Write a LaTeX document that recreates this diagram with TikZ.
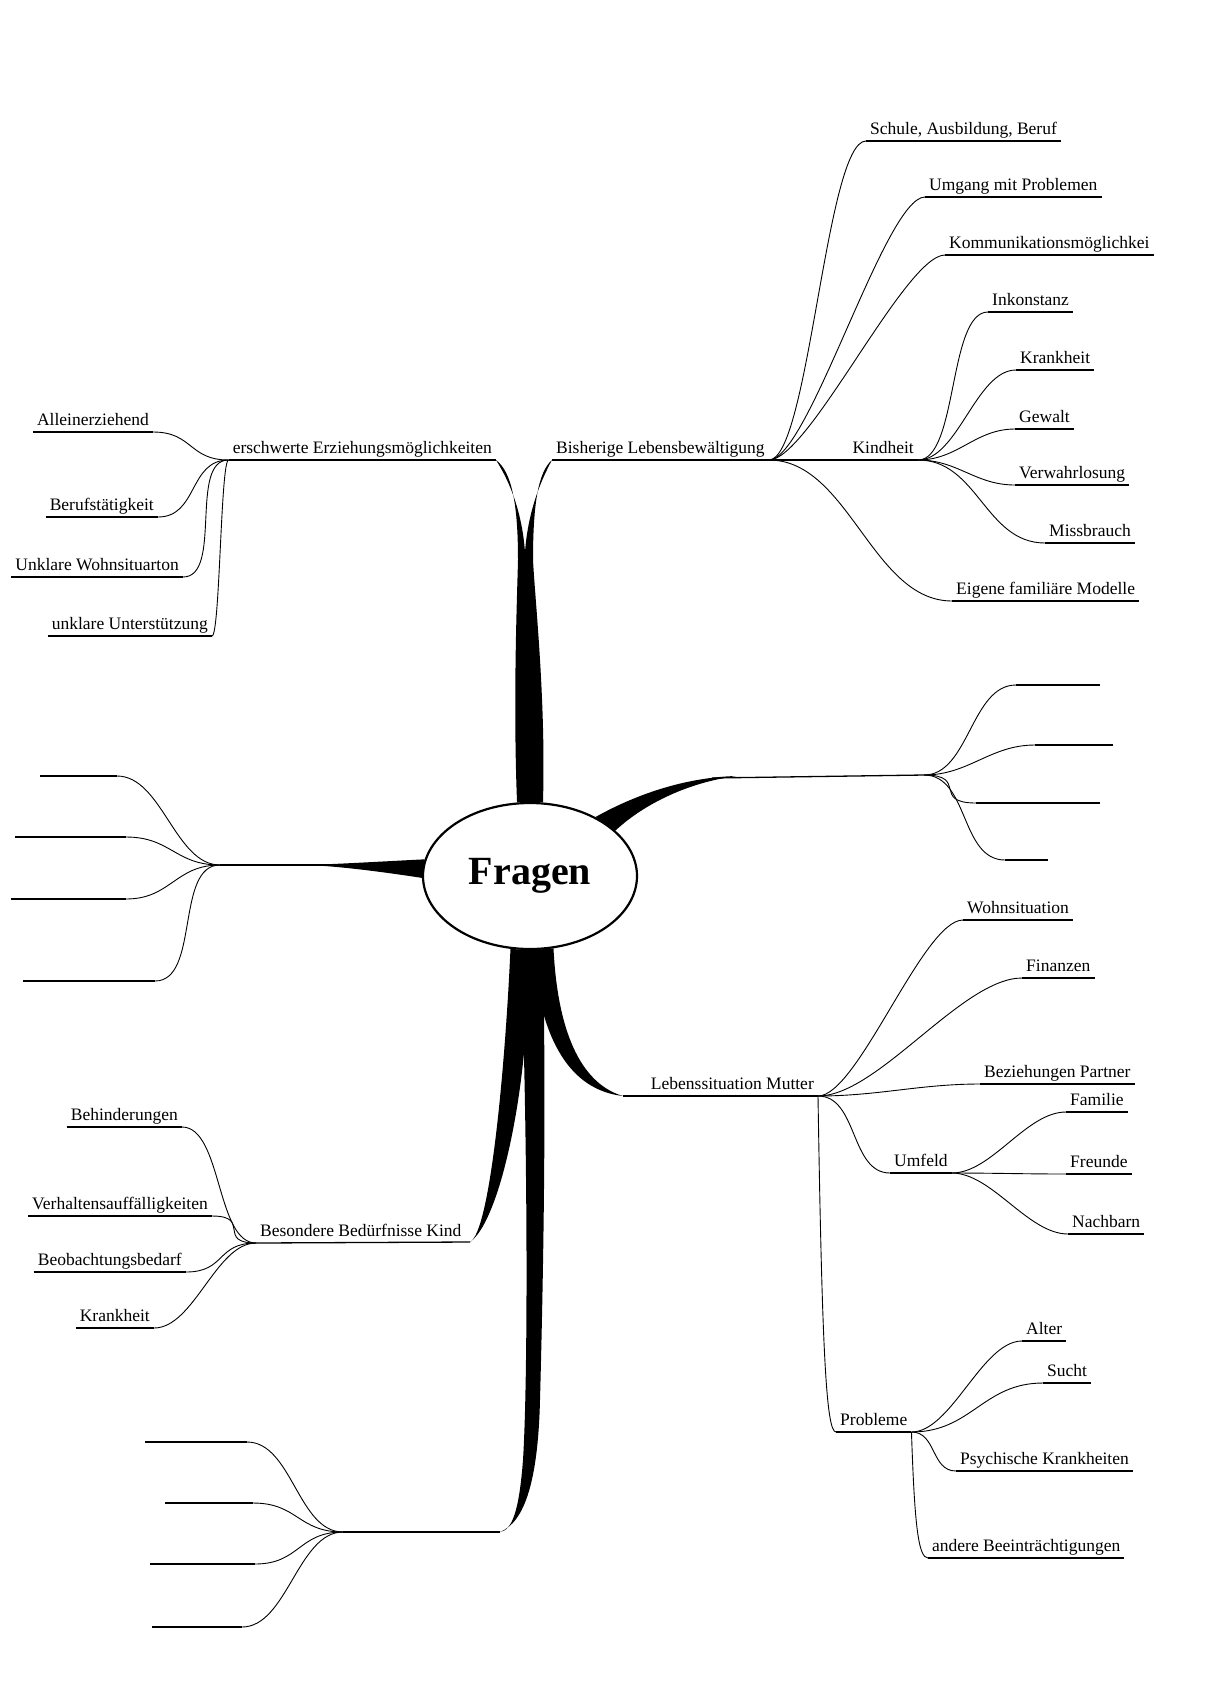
\documentclass[tikz,border=0pt]{standalone}
\usepackage{fontspec}
\setmainfont{Liberation Serif}
\usetikzlibrary{shapes.geometric, backgrounds}

\tikzset{
  leaf/.style={inner xsep=4pt, inner ysep=2pt, text height=12pt, text depth=4pt, font=\fontsize{17.5}{20}\selectfont},
  uline/.style={line width=1.3pt},
  twig/.style={line width=0.9pt, out=0, in=180, distance=40pt},
  twigl/.style={line width=0.9pt, out=180, in=0, distance=40pt},
  centre/.style={ellipse, draw, line width=2.2pt, fill=white, minimum width=214pt, minimum height=146pt, inner sep=0pt, font=\fontsize{40}{40}\selectfont\bfseries},
}

\begin{document}
\begin{tikzpicture}[x=1pt, y=-1pt]
  \useasboundingbox (0,0) rectangle (1219,1706);

  \node (fragen) [centre] at (530,876) {Fragen};

  % obere Aeste
  \node (erschwert) [leaf, anchor=south east] at (496,460) {erschwerte Erziehungsmöglichkeiten};
  \node (bisher)    [leaf, anchor=south west] at (552,460) {Bisherige Lebensbewältigung};
  \node (kindheit)  [leaf, anchor=south east] at (918,460) {Kindheit};

  \node (schule)  [leaf, anchor=south west] at (866,141) {Schule, Ausbildung, Beruf};
  \node (umgang)  [leaf, anchor=south west] at (925,197) {Umgang mit Problemen};
  \node (kommun)  [leaf, anchor=south west] at (945,255) {Kommunikationsmöglichkei};
  \node (eigene)  [leaf, anchor=south west] at (952,601) {Eigene familiäre Modelle};

  \node (inkon)   [leaf, anchor=south west] at (988,312) {Inkonstanz};
  \node (krank)   [leaf, anchor=south west] at (1016,370) {Krankheit};
  \node (gewalt)  [leaf, anchor=south west] at (1015,429) {Gewalt};
  \node (verwahr) [leaf, anchor=south west] at (1015,485) {Verwahrlosung};
  \node (missbr)  [leaf, anchor=south west] at (1045,543) {Missbrauch};

  \node (allein)  [leaf, anchor=south east] at (153,432) {Alleinerziehend};
  \node (berufst) [leaf, anchor=south east] at (158,517) {Berufstätigkeit};
  \node (wohnung) [leaf, anchor=south east] at (183,577) {Unklare Wohnsituarton};
  \node (unterst) [leaf, anchor=south east] at (212,636) {unklare Unterstützung};

  % untere Aeste
  \node (lebens)   [leaf, anchor=south east] at (818,1096) {Lebenssituation Mutter};
  \node (wohnsit)  [leaf, anchor=south west] at (963,920) {Wohnsituation};
  \node (finanz)   [leaf, anchor=south west] at (1022,978) {Finanzen};
  \node (bezieh)   [leaf, anchor=south west] at (980,1084) {Beziehungen Partner};
  \node (umfeld)   [leaf, anchor=south west] at (890,1173) {Umfeld};
  \node (familie)  [leaf, anchor=south west] at (1066,1112) {Familie};
  \node (freunde)  [leaf, anchor=south west] at (1066,1174) {Freunde};
  \node (nachbarn) [leaf, anchor=south west] at (1068,1234) {Nachbarn};
  \node (probl)    [leaf, anchor=south west] at (836,1432) {Probleme};
  \node (alter)    [leaf, anchor=south west] at (1022,1341) {Alter};
  \node (sucht)    [leaf, anchor=south west] at (1043,1383) {Sucht};
  \node (psych)    [leaf, anchor=south west] at (956,1471) {Psychische Krankheiten};
  \node (andere)   [leaf, anchor=south west] at (928,1558) {andere Beeinträchtigungen};

  \node (besond)  [leaf, anchor=south west] at (256,1243) {Besondere Bedürfnisse Kind};
  \node (behind)  [leaf, anchor=south east] at (182,1127) {Behinderungen};
  \node (verhalt) [leaf, anchor=south east] at (212,1216) {Verhaltensauffälligkeiten};
  \node (beob)    [leaf, anchor=south east] at (186,1272) {Beobachtungsbedarf};
  \node (krank2)  [leaf, anchor=south east] at (154,1328) {Krankheit};

  \coordinate (rtip)  at (737,776);
  \coordinate (rjoin) at (712,778);
  \coordinate (rhub)  at (924,775);
  \coordinate (ltip)  at (306,865);
  \coordinate (ljoin) at (332,865);
  \coordinate (lhub)  at (220,865);
  \coordinate (btip)  at (500,1532);
  \coordinate (bhub)  at (343,1532);
  \coordinate (lmtip) at (623,1096);
  \coordinate (bbtip) at (470,1242);

  % Unterstreichungen
  \foreach \n in {erschwert, bisher, schule, umgang, kommun, eigene, inkon, krank, gewalt, verwahr, missbr,
                  allein, berufst, wohnung, unterst, wohnsit, finanz, bezieh, umfeld, familie, freunde, nachbarn,
                  probl, alter, sucht, psych, andere, behind, verhalt, beob, krank2}
    \draw [uline] (\n.south west) -- (\n.south east);
  \draw [uline] (bisher.south east) -- (kindheit.south east);
  \draw [uline] (lmtip) -- (lebens.south east);
  \draw [uline] (besond.south west) -- (bbtip);
  \draw [uline] (rjoin) -- (rhub);
  \draw [uline] (ljoin) -- (lhub);
  \draw [uline] (btip) -- (bhub);

  % Zweige
  \draw [twigl] (erschwert.south west) to (allein.south east);
  \draw [twigl] (erschwert.south west) to (berufst.south east);
  \draw [twigl] (erschwert.south west) to (wohnung.south east);
  \draw [twigl, distance=8pt] (erschwert.south west) to (unterst.south east);

  \draw [twig] (bisher.south east) to (schule.south west);
  \draw [twig] (bisher.south east) to (umgang.south west);
  \draw [twig] (bisher.south east) to (kommun.south west);
  \draw [twig, distance=80pt] (bisher.south east) to (eigene.south west);
  \draw [twig] (kindheit.south east) to (inkon.south west);
  \draw [twig] (kindheit.south east) to (krank.south west);
  \draw [twig] (kindheit.south east) to (gewalt.south west);
  \draw [twig] (kindheit.south east) to (verwahr.south west);
  \draw [twig, distance=60pt] (kindheit.south east) to (missbr.south west);

  \draw [twig] (lebens.south east) to (wohnsit.south west);
  \draw [twig, distance=60pt] (lebens.south east) to (finanz.south west);
  \draw [twig, distance=60pt] (lebens.south east) to (bezieh.south west);
  \draw [twig] (lebens.south east) to (umfeld.south west);
  \draw [line width=0.9pt] (lebens.south east) .. controls +(4,250) and +(-10,0) .. (probl.south west);
  \draw [twig] (umfeld.south east) to (familie.south west);
  \draw [twig] (umfeld.south east) to (freunde.south west);
  \draw [twig] (umfeld.south east) to (nachbarn.south west);
  \draw [twig] (probl.south east) to (alter.south west);
  \draw [twig, distance=60pt] (probl.south east) to (sucht.south west);
  \draw [twig, distance=25pt] (probl.south east) to (psych.south west);
  \draw [line width=0.9pt] (probl.south east) .. controls +(3,90) and +(-10,0) .. (andere.south west);

  \draw [twigl] (besond.south west) to (behind.south east);
  \draw [twigl] (besond.south west) to (verhalt.south east);
  \draw [twigl] (besond.south west) to (beob.south east);
  \draw [twigl] (besond.south west) to (krank2.south east);

  % leere Aeste
  \foreach \i/\xa/\xb/\yy in {1/1016/1100/685, 2/1035/1113/745, 3/976/1100/803, 4/1005/1048/860} {
    \coordinate (ra\i) at (\xa,\yy);
    \coordinate (rb\i) at (\xb,\yy);
    \draw [twig, distance=45pt] (rhub) to (ra\i);
    \draw [uline] (ra\i) -- (rb\i);
  }
  \foreach \i/\xa/\xb/\yy in {1/117/40/776, 2/126/15/837, 3/126/11/899, 4/155/23/981} {
    \coordinate (la\i) at (\xa,\yy);
    \coordinate (lb\i) at (\xb,\yy);
    \draw [twigl, distance=45pt] (lhub) to (la\i);
    \draw [uline] (la\i) -- (lb\i);
  }
  \foreach \i/\xa/\xb/\yy in {1/247/145/1442, 2/253/165/1503, 3/255/150/1564, 4/242/152/1627} {
    \coordinate (ba\i) at (\xa,\yy);
    \coordinate (bb\i) at (\xb,\yy);
    \draw [twigl, distance=45pt] (bhub) to (ba\i);
    \draw [uline] (ba\i) -- (bb\i);
  }

  % dicke Hauptaeste
  \begin{scope}[on background layer]
    \fill (fragen.100) .. controls (513,700) and (517,600) .. (518,560)
      .. controls (518,505) and (512,472) .. (erschwert.south east)
      .. controls (510,482) and (522,512) .. (525,552)
      .. controls (528,512) and (540,482) .. (bisher.south west)
      .. controls (538,472) and (533,505) .. (533,560)
      .. controls (535,600) and (546,700) .. (fragen.80) -- cycle;
    \fill (fragen.42) .. controls (640,792) and (690,777) .. (rtip)
      .. controls (690,782) and (645,803) .. (fragen.28) -- cycle;
    \fill (fragen.171) .. controls (390,861) and (340,864) .. (ltip)
      .. controls (340,866) and (390,873) .. (fragen.181) -- cycle;
    \fill (fragen.-88) .. controls (540,1040) and (570,1090) .. (lmtip)
      .. controls (585,1085) and (558,1040) .. (fragen.-72) -- cycle;
    \fill (fragen.-105) .. controls (505,1070) and (490,1232) .. (bbtip)
      .. controls (502,1220) and (532,1070) .. (fragen.-92) -- cycle;
    \fill (fragen.-97) .. controls (528,1150) and (528,1380) .. (523,1460)
      .. controls (519,1512) and (512,1530) .. (btip)
      .. controls (525,1522) and (538,1480) .. (540,1400)
      .. controls (544,1250) and (546,1100) .. (fragen.-80) -- cycle;
  \end{scope}
\end{tikzpicture}
\end{document}
